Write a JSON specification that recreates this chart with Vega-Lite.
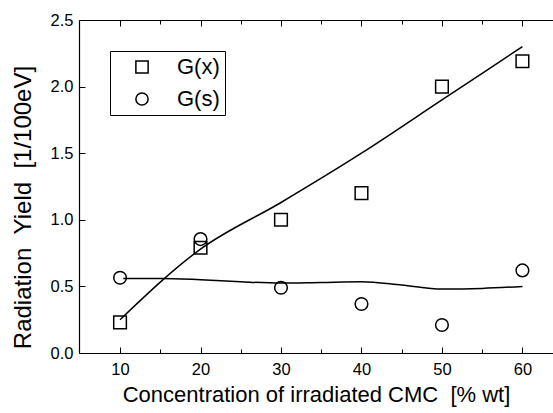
{
  "$schema": "https://vega.github.io/schema/vega-lite/v6.json",
  "autosize": "none",
  "width": 474,
  "height": 333,
  "padding": {"left": 79, "top": 20, "right": 0, "bottom": 60},
  "background": "white",
  "config": {
    "font": "Liberation Sans",
    "view": {"stroke": null},
    "axis": {"domainColor": "black", "tickColor": "black", "labelColor": "black", "titleColor": "black", "grid": false, "titleFontWeight": "normal", "labelFontSize": 16.5, "titleFontSize": 22, "domainWidth": 1.2, "tickWidth": 1}
  },
  "datasets": {
    "pts": [
      {"series": "G(x)", "x": 10, "y": 0.23},
      {"series": "G(x)", "x": 20, "y": 0.79},
      {"series": "G(x)", "x": 30, "y": 1.0},
      {"series": "G(x)", "x": 40, "y": 1.2},
      {"series": "G(x)", "x": 50, "y": 2.0},
      {"series": "G(x)", "x": 60, "y": 2.19},
      {"series": "G(s)", "x": 10, "y": 0.565},
      {"series": "G(s)", "x": 20, "y": 0.855},
      {"series": "G(s)", "x": 30, "y": 0.49},
      {"series": "G(s)", "x": 40, "y": 0.368},
      {"series": "G(s)", "x": 50, "y": 0.21},
      {"series": "G(s)", "x": 60, "y": 0.62}
    ],
    "fit": [
      {"series": "G(x)", "x": 10, "y": 0.25},
      {"series": "G(x)", "x": 20, "y": 0.78},
      {"series": "G(x)", "x": 30, "y": 1.13},
      {"series": "G(x)", "x": 40, "y": 1.5},
      {"series": "G(x)", "x": 50, "y": 1.9},
      {"series": "G(x)", "x": 60, "y": 2.3},
      {"series": "G(s)", "x": 10.4, "y": 0.56},
      {"series": "G(s)", "x": 15, "y": 0.56},
      {"series": "G(s)", "x": 20, "y": 0.55},
      {"series": "G(s)", "x": 25, "y": 0.535},
      {"series": "G(s)", "x": 30, "y": 0.525},
      {"series": "G(s)", "x": 35, "y": 0.53},
      {"series": "G(s)", "x": 40, "y": 0.535},
      {"series": "G(s)", "x": 45, "y": 0.51},
      {"series": "G(s)", "x": 50, "y": 0.48},
      {"series": "G(s)", "x": 55, "y": 0.485},
      {"series": "G(s)", "x": 60, "y": 0.5}
    ]
  },
  "resolve": {"axis": {"x": "independent"}},
  "layer": [
    {
      "data": {"name": "fit"},
      "mark": {"type": "line", "color": "black", "strokeWidth": 1.5, "interpolate": "monotone"},
      "encoding": {
        "x": {"field": "x", "type": "quantitative", "scale": {"domain": [4.9, 63.8], "nice": false, "zero": false},
          "axis": {"orient": "bottom", "title": "Concentration of irradiated CMC\u00a0\u00a0[% wt]", "values": [10, 15, 20, 25, 30, 35, 40, 45, 50, 55, 60],
            "labelExpr": "datum.value % 10 === 0 ? datum.label : ''",
            "tickSize": {"condition": {"test": "datum.value % 10 === 0", "value": -6}, "value": -4},
            "labelPadding": 14, "titlePadding": 7}},
        "y": {"field": "y", "type": "quantitative", "scale": {"domain": [0, 2.5], "nice": false},
          "axis": {"title": "Radiation\u00a0\u00a0Yield\u00a0\u00a0[1/100eV]", "titleFontSize": 24, "titleY": 187, "values": [0, 0.25, 0.5, 0.75, 1, 1.25, 1.5, 1.75, 2, 2.25, 2.5],
            "format": ".1f",
            "labelExpr": "(datum.value * 2) % 1 === 0 ? datum.label : ''",
            "tickSize": {"condition": {"test": "(datum.value * 2) % 1 === 0", "value": -6}, "value": -4},
            "labelPadding": 12, "titlePadding": 15}},
        "detail": {"field": "series"}
      }
    },
    {
      "data": {"name": "pts"},
      "mark": {"type": "point", "filled": false, "color": "black", "strokeWidth": 1.5, "size": 160, "opacity": 1},
      "encoding": {
        "x": {"field": "x", "type": "quantitative", "axis": null},
        "y": {"field": "y", "type": "quantitative"},
        "shape": {"field": "series", "type": "nominal", "sort": ["G(x)", "G(s)"],
          "scale": {"domain": ["G(x)", "G(s)"], "range": ["square", "circle"]},
          "legend": {"title": null, "orient": "none", "legendX": 31, "legendY": 31, "strokeColor": "black", "padding": 5,
            "symbolOffset": 16, "labelOffset": 24, "labelFontSize": 22, "labelColor": "black", "symbolSize": 150, "symbolStrokeWidth": 1.5, "symbolStrokeColor": "black", "symbolFillColor": "transparent", "rowPadding": 10}}
      }
    },
    {
      "data": {"name": "pts"},
      "mark": {"type": "point", "opacity": 0},
      "encoding": {
        "x": {"field": "x", "type": "quantitative",
          "axis": {"orient": "top", "title": null, "labels": false, "values": [10, 15, 20, 25, 30, 35, 40, 45, 50, 55, 60],
            "tickSize": {"condition": {"test": "datum.value % 10 === 0", "value": -6}, "value": -4}}},
        "y": {"field": "y", "type": "quantitative"}
      }
    }
  ]
}
